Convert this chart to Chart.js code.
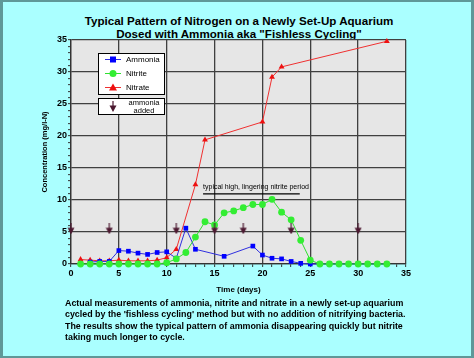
<!DOCTYPE html>
<html>
<head>
<meta charset="utf-8">
<script src="https://cdn.jsdelivr.net/npm/chart.js@4.4.1/dist/chart.umd.min.js"></script>
<style>
  body { margin: 0; background: #5f9898; width: 474px; height: 358px; overflow: hidden; }
  #wrap { position: absolute; left: 3px; top: 2px; width: 468px; height: 354px; background: #aaffff; }
  canvas { position: absolute; left: 0; top: 0; }
  .title { position: absolute; left: 0; top: 15px; width: 478px; text-align: center;
           font: bold 11.6px 'Liberation Sans', Arial, sans-serif; line-height: 12.5px; color: #000; }
  .caption { position: absolute; left: 65px; top: 298px; white-space: nowrap;
             font: bold 8.9px 'Liberation Sans', Arial, sans-serif; line-height: 11.4px; color: #000; }
</style>
</head>
<body>
<div id="wrap"></div>
<div class="title">Typical Pattern of Nitrogen on a Newly Set-Up Aquarium<br>Dosed with Ammonia aka "Fishless Cycling"</div>
<canvas id="myChart" width="474" height="358"></canvas>
<div class="caption">Actual measurements of ammonia, nitrite and nitrate in a newly set-up aquarium<br>cycled by the 'fishless cycling' method but with no addition of nitrifying bacteria.<br>The results show the typical pattern of ammonia disappearing quickly but nitrite<br>taking much longer to cycle.</div>
<script>
// data (day, mg/l-N)
const ammoniaDays = [2, 3, 4, 5, 6, 7, 8, 9, 10, 11, 12, 13, 16, 19, 20, 21, 22, 23, 24, 25, 26, 27, 28, 29, 30, 31, 32, 33];
const ammonia     = [0.3, 0.4, 0.4, 2.1, 2.0, 1.7, 1.5, 1.8, 1.9, 0.9, 5.6, 2.3, 1.2, 2.8, 1.4, 0.9, 0.8, 0.4, 0.1, 0, 0, 0, 0, 0, 0, 0, 0, 0];

const nitriteDays = [1, 2, 3, 4, 5, 6, 7, 8, 9, 10, 11, 12, 13, 14, 15, 16, 17, 18, 19, 20, 21, 22, 23, 24, 25, 26, 27, 28, 29, 30, 31, 32, 33];
const nitrite     = [0, 0, 0, 0, 0, 0, 0, 0, 0, 0.2, 0.8, 1.8, 4.2, 6.6, 6.1, 8.0, 8.3, 8.8, 9.3, 9.3, 10.1, 8.1, 6.9, 3.7, 0.6, 0, 0, 0, 0, 0, 0, 0, 0];

const nitrateDays = [1, 2, 3, 4, 5, 6, 7, 8, 9, 10, 11, 13, 14, 20, 21, 22, 33];
const nitrate     = [0.7, 0.6, 0.5, 0.5, 0.6, 0.5, 0.5, 0.5, 0.6, 1.0, 2.3, 12.4, 19.4, 22.2, 29.2, 30.8, 34.8];

const doseDays  = [0, 4, 11, 15, 18, 23, 30];
const doseLevel = [5.5, 5.5, 5.5, 5.5, 5.5, 5.5, 5.5];

const noteText = 'typical high, lingering nitrite period';
const noteFrom = 13.8, noteTo = 23.9, noteLevel = 11.1;

const pairs = (xs, ys) => xs.map((x, i) => ({x: x, y: ys[i]}));

// down arrow marker for "ammonia added"
const arrow = document.createElement('canvas');
arrow.width = 8; arrow.height = 11;
(function () {
  const c = arrow.getContext('2d');
  c.strokeStyle = '#4c1830'; c.fillStyle = '#4c1830'; c.lineWidth = 1.2;
  c.beginPath(); c.moveTo(4, 0); c.lineTo(4, 6); c.stroke();
  c.beginPath(); c.moveTo(0.5, 4.5); c.lineTo(7.5, 4.5); c.lineTo(4, 11); c.closePath(); c.fill();
})();

const FONT = "'Liberation Sans', Arial, sans-serif";

function marker(ctx, style, x, y, color) {
  ctx.fillStyle = color;
  ctx.beginPath();
  if (style === 'rect') ctx.rect(x - 3, y - 3, 6, 6);
  else if (style === 'circle') ctx.arc(x, y, 3.5, 0, Math.PI * 2);
  else { ctx.moveTo(x, y - 4); ctx.lineTo(x + 4, y + 3); ctx.lineTo(x - 4, y + 3); ctx.closePath(); }
  ctx.fill();
}

const legendBox = {
  id: 'legendBox',
  afterDraw(chart) {
    const ctx = chart.ctx;
    ctx.save();
    ctx.lineWidth = 1;
    ctx.fillStyle = '#fff'; ctx.strokeStyle = '#000';
    ctx.fillRect(98.5, 53.5, 66, 41); ctx.strokeRect(98.5, 53.5, 66, 41);
    ctx.fillRect(98.5, 98.5, 66, 16); ctx.strokeRect(98.5, 98.5, 66, 16);
    ctx.font = '8px ' + FONT;
    ctx.textBaseline = 'middle';
    chart.data.datasets.slice(0, 3).forEach((ds, i) => {
      const y = 59.5 + i * 14;
      ctx.strokeStyle = ds.borderColor;
      ctx.beginPath(); ctx.moveTo(105, y); ctx.lineTo(121, y); ctx.stroke();
      marker(ctx, ds.pointStyle, 113, y, ds.pointBackgroundColor);
      ctx.fillStyle = '#000';
      ctx.textAlign = 'left';
      ctx.fillText(ds.label, 126, y);
    });
    ctx.drawImage(arrow, 109, 101);
    ctx.font = '7.5px ' + FONT;
    ctx.textAlign = 'center';
    ctx.fillStyle = '#000';
    ctx.fillText('ammonia', 144, 102.5);
    ctx.fillText('added', 144, 110.5);
    ctx.restore();
  }
};

const note = {
  id: 'note',
  afterDatasetsDraw(chart) {
    const {ctx, scales: {x, y}} = chart;
    const x0 = x.getPixelForValue(noteFrom), x1 = x.getPixelForValue(noteTo);
    const py = y.getPixelForValue(noteLevel);
    ctx.save();
    ctx.font = '7px ' + FONT;
    ctx.fillStyle = '#000';
    ctx.textBaseline = 'bottom';
    ctx.textAlign = 'left';
    ctx.fillText(noteText, x0, py - 2);
    ctx.strokeStyle = '#000'; ctx.lineWidth = 1.3;
    ctx.beginPath(); ctx.moveTo(x0, py + 1); ctx.lineTo(x1, py + 1); ctx.stroke();
    ctx.restore();
  }
};

const plotBg = {
  id: 'plotBg',
  beforeDraw(chart) {
    const {ctx, chartArea: a} = chart;
    ctx.save();
    ctx.fillStyle = '#e6e6e6';
    ctx.fillRect(a.left, a.top, a.right - a.left, a.bottom - a.top);
    ctx.restore();
  }
};

const gridColor = c => (c.tick && c.tick.value % 5 === 0) ? '#404040' : 'rgba(0,0,0,0)';

const myChart = new Chart(document.getElementById('myChart').getContext('2d'), {
  type: 'line',
  data: {
    datasets: [
      {
        label: 'Ammonia', data: pairs(ammoniaDays, ammonia),
        borderColor: '#3030e0', borderWidth: 1, pointStyle: 'rect', pointRadius: 3.3,
        pointBackgroundColor: '#0000ff', pointBorderColor: '#0000ff', pointBorderWidth: 0,
        order: 2, clip: false
      },
      {
        label: 'Nitrite', data: pairs(nitriteDays, nitrite),
        borderColor: '#30e030', borderWidth: 1, pointStyle: 'circle', pointRadius: 3.4,
        pointBackgroundColor: '#33ee33', pointBorderColor: '#33ee33', pointBorderWidth: 0,
        order: 1, clip: false
      },
      {
        label: 'Nitrate', data: pairs(nitrateDays, nitrate),
        borderColor: '#f03030', borderWidth: 1, pointStyle: 'triangle', pointRadius: 3.4,
        pointBackgroundColor: '#ee1010', pointBorderColor: '#ee1010', pointBorderWidth: 0,
        order: 3, clip: false
      },
      {
        label: 'ammonia added', data: pairs(doseDays, doseLevel),
        showLine: false, pointStyle: arrow, order: 0, clip: false
      }
    ]
  },
  options: {
    responsive: false,
    animation: false,
    events: [],
    layout: {padding: {left: 36, top: 40, right: 68, bottom: 63}},
    plugins: {legend: {display: false}, tooltip: {enabled: false}, title: {display: false}},
    scales: {
      x: {
        type: 'linear', min: 0, max: 35,
        afterFit: s => { s.height = 31; },
        ticks: {
          stepSize: 1, autoSkip: false, maxRotation: 0, padding: 1, color: '#000',
          font: {family: FONT, size: 9, weight: 'bold'},
          callback: v => v % 5 === 0 ? v : ''
        },
        grid: {color: gridColor, lineWidth: 1.3, tickLength: 3, tickColor: '#333', tickWidth: 1},
        border: {color: '#333', width: 1.3},
        title: {display: true, text: 'Time (days)', color: '#000', padding: {top: 0, bottom: 0},
                font: {family: FONT, size: 8, weight: 'bold'}}
      },
      y: {
        min: 0, max: 35,
        afterFit: s => { s.width = 35; },
        ticks: {
          stepSize: 1, autoSkip: false, padding: 1, color: '#000',
          font: {family: FONT, size: 9, weight: 'bold'},
          callback: v => v % 5 === 0 ? v : ''
        },
        grid: {color: gridColor, lineWidth: 1.3, tickLength: 3, tickColor: '#333', tickWidth: 1},
        border: {color: '#333', width: 1.3},
        title: {display: true, text: 'Concentration (mg/l-N)', color: '#000', padding: {top: 4, bottom: 0},
                font: {family: FONT, size: 7.5, weight: 'bold'}}
      }
    }
  },
  plugins: [plotBg, note, legendBox]
});
</script>
</body>
</html>
